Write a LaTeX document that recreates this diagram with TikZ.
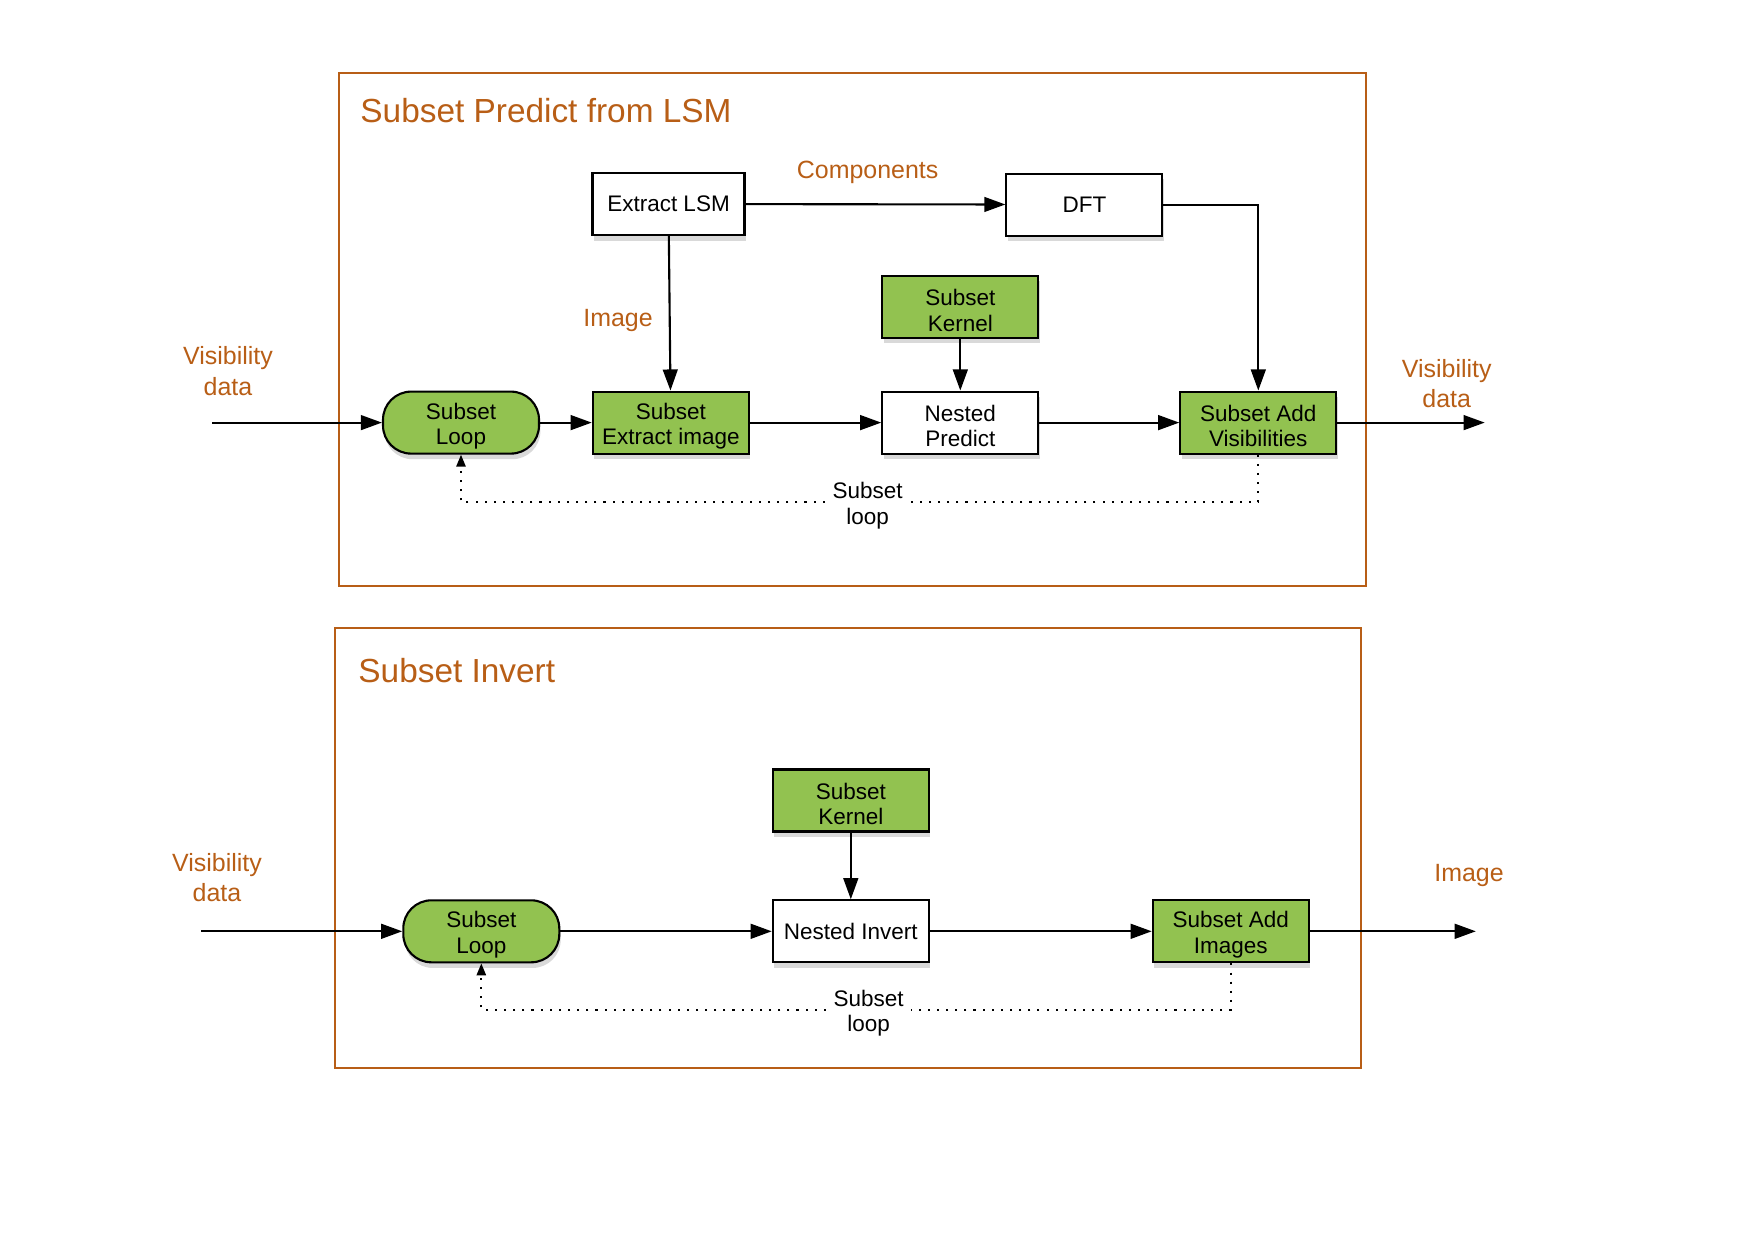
\documentclass[tikz,border=0pt]{standalone}
\usepackage{fontspec}
\setmainfont{Liberation Sans}
\usepackage{tikz}
\usetikzlibrary{arrows.meta,shadows}
\definecolor{boxgreen}{RGB}{146,194,80}
\definecolor{rust}{RGB}{184,94,22}
\tikzset{>={Triangle[length=6pt,width=4.2pt]}}
\newcommand\tallstrut{\rule{0pt}{6.6pt}}

\begin{document}
\begin{tikzpicture}[line join=miter,
                    frame/.style={draw=rust, line width=0.6pt},
                    title/.style={text=rust, anchor=west, font=\fontsize{9.5}{11}\selectfont},
                    note/.style={text=rust, align=center, font=\fontsize{7.1}{8.6}\selectfont},
                    block/.style={draw, line width=0.6pt, fill=white, align=center,
                                  minimum width=1.56cm, minimum height=0.62cm, inner sep=1pt,
                                  font=\fontsize{6.4}{7.3}\selectfont,
                                  drop shadow={shadow xshift=0.4pt, shadow yshift=-1.6pt, opacity=0.3}},
                    greenblock/.style={block, fill=boxgreen},
                    loopblock/.style={greenblock, rounded corners=8pt},
                    looptag/.style={align=center, inner sep=2pt, font=\fontsize{6.4}{7.3}\selectfont},
                    flow/.style={->, line width=0.6pt},
                    back/.style={line width=0.6pt, dash pattern=on 0.6pt off 2pt,
                                 -{Triangle[length=3.4pt,width=2.6pt]}}]
  \useasboundingbox (0,0) rectangle (17.53,12.40);
  \def\rowA{8.174}
  \def\rowB{3.087}

  % frames
  \draw[frame] (3.39,6.542) rectangle (13.662,11.673);
  \draw[frame] (3.354,1.723) rectangle (13.606,6.117);
  \node[title] (t1) at (3.48,11.293) {Subset Predict from LSM};
  \node[title] (t2) at (3.46,5.692) {Subset Invert};

  % predict from LSM
  \node[block, minimum width=1.52cm] (extract) at (6.685,10.36) {Extract LSM};
  \node[block] (dft) at (10.844,10.354) {DFT};
  \node[greenblock] (kern1) at (9.603,9.332) {\tallstrut Subset\\Kernel};
  \node[loopblock] (loop1) at (4.61,\rowA) {\tallstrut Subset\\Loop};
  \node[greenblock] (extimg) at (6.708,\rowA) {\tallstrut Subset\\Extract image};
  \node[block] (npred) at (9.603,\rowA) {\tallstrut Nested\\Predict};
  \node[greenblock] (addvis) at (12.583,\rowA) {\tallstrut Subset Add\\Visibilities};
  \node[note] (visin1) at (2.28,8.69) {Visibility\\data};
  \node[note] (visout1) at (14.467,8.565) {Visibility\\data};
  \node[note] (comp) at (8.676,10.68) {Components};
  \node[note] (img1) at (6.18,9.20) {Image};
  \node[looptag] (tag1) at (8.676,7.38) {\tallstrut Subset\\loop};
  \coordinate (in1) at (2.12,\rowA);
  \coordinate (out1) at (14.847,\rowA);

  \draw[flow] (in1) -- (loop1);
  \draw[flow] (loop1) -- (extimg);
  \draw[flow] (extimg) -- (npred);
  \draw[flow] (npred) -- (addvis);
  \draw[flow] (addvis) -- (out1);
  \draw[flow] (extract) -- (extimg);
  \draw[flow] (extract) -- (dft);
  \draw[flow] (dft.east) -| (addvis.north);
  \draw[flow] (kern1) -- (npred);
  \draw[back, -] (addvis.south) |- (tag1.east);
  \draw[back] (tag1.west) -| (loop1.south);

  % invert
  \node[greenblock] (kern2) at (8.508,4.395) {\tallstrut Subset\\Kernel};
  \node[loopblock] (loop2) at (4.813,\rowB) {\tallstrut Subset\\Loop};
  \node[block] (ninv) at (8.508,\rowB) {Nested Invert};
  \node[greenblock] (addimg) at (12.308,\rowB) {\tallstrut Subset Add\\Images};
  \node[note] (visin2) at (2.17,3.624) {Visibility\\data};
  \node[note] (img2) at (14.69,3.65) {Image};
  \node[looptag] (tag2) at (8.687,2.304) {\tallstrut Subset\\loop};
  \coordinate (in2) at (2.01,\rowB);
  \coordinate (out2) at (14.758,\rowB);

  \draw[flow] (in2) -- (loop2);
  \draw[flow] (loop2) -- (ninv);
  \draw[flow] (ninv) -- (addimg);
  \draw[flow] (addimg) -- (out2);
  \draw[flow] (kern2) -- (ninv);
  \draw[back, -] (addimg.south) |- (tag2.east);
  \draw[back] (tag2.west) -| (loop2.south);
\end{tikzpicture}
\end{document}
